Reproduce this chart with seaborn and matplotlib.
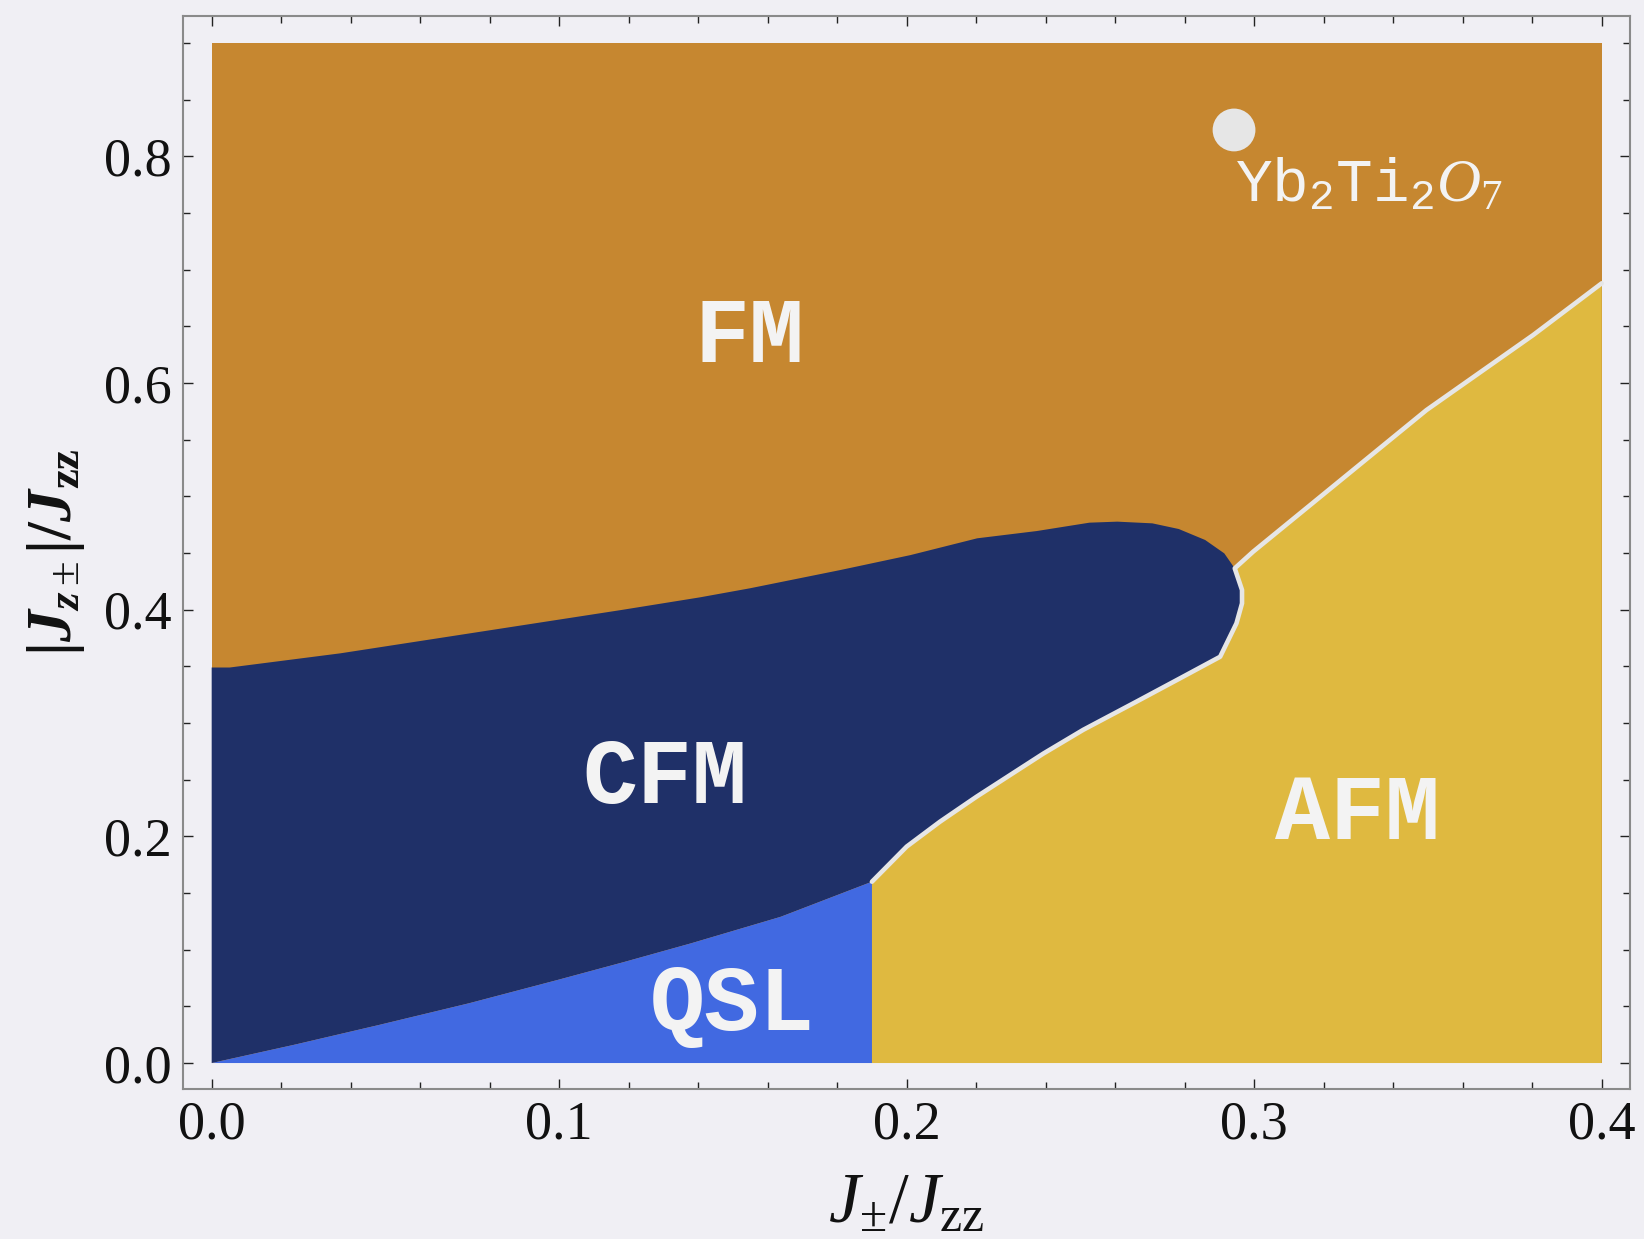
import numpy as np
import pandas as pd
import matplotlib
matplotlib.use("Agg")
import matplotlib.pyplot as plt
import seaborn as sns

# ---- phase boundaries (x = J_pm/J_zz, y = |J_z±|/J_zz) ----
# FM / CFM boundary, from the left edge to the triple point
fm_cfm_x = [0.0, 0.0052, 0.037, 0.0774, 0.1178, 0.1405, 0.1549, 0.1809, 0.2011,
            0.2203, 0.2374, 0.2526, 0.2606, 0.2707, 0.2783, 0.2859, 0.2914, 0.2944]
fm_cfm_y = [0.349, 0.349, 0.3615, 0.3806, 0.3997, 0.4109, 0.4189, 0.435, 0.4482,
            0.463, 0.4694, 0.4768, 0.4777, 0.4762, 0.4712, 0.4615, 0.4497, 0.4365]

# CFM / AFM boundary, from the QSL corner to the triple point
cfm_afm_x = [0.19, 0.2, 0.2096, 0.2201, 0.2393, 0.2508, 0.2662, 0.2796, 0.2902,
             0.2949, 0.2965, 0.2965, 0.2944]
cfm_afm_y = [0.16, 0.191, 0.213, 0.235, 0.273, 0.294, 0.319, 0.341, 0.3585,
             0.388, 0.4056, 0.4174, 0.4365]

# QSL / CFM boundary
qsl_x = [0.0, 0.024, 0.048, 0.074, 0.0994, 0.1185, 0.1379, 0.1637, 0.1693, 0.19]
qsl_y = [0.0, 0.0163, 0.0335, 0.0527, 0.0732, 0.0890, 0.1056, 0.129, 0.1356, 0.16]

# AFM / FM boundary, from the triple point to the right edge
afm_fm_x = [0.2944, 0.2997, 0.3496, 0.3803, 0.4]
afm_fm_y = [0.4365, 0.4512, 0.5762, 0.6424, 0.688]

# computed window and the Yb2Ti2O7 point
j_pm_range = (0.0, 0.4)
j_zpm_range = (0.0, 0.9)
material_x = [0.2942]
material_y = [0.8233]

x_ticks = [0.0, 0.1, 0.2, 0.3, 0.4]
y_ticks = [0.0, 0.2, 0.4, 0.6, 0.8]

# ---- style ----
sns.set_theme(style="ticks")
bg = "#F0EFF4"
plt.rcParams.update({
    "font.family": ["Liberation Serif", "DejaVu Serif"],
    "mathtext.fontset": "custom",
    "mathtext.rm": "Liberation Serif",
    "mathtext.it": "Liberation Serif:italic",
    "mathtext.bf": "Liberation Serif:bold",
    "mathtext.bfit": "Liberation Serif:italic:bold",
    "mathtext.tt": "Liberation Mono",
    "figure.facecolor": bg,
    "axes.facecolor": bg,
})

c_fm = "#C68730"
c_cfm = "#1F3068"
c_qsl = "#4169E1"
c_afm = "#DFB940"
c_line = "#E6E6E6"
c_text = "#F3F3F3"

fig = plt.figure(figsize=(16.44, 12.39), dpi=100)
ax = fig.add_axes([0.1113, 0.1208, 0.8800, 0.8665])

x0, x1 = j_pm_range
y0, y1 = j_zpm_range

# FM fills the whole window; the other phases are painted over it
ax.fill([x0, x1, x1, x0], [y0, y0, y1, y1], color=c_fm, lw=0, zorder=1)

afm_px = [qsl_x[-1], x1] + afm_fm_x[::-1] + cfm_afm_x[::-1][1:]
afm_py = [y0, y0] + afm_fm_y[::-1] + cfm_afm_y[::-1][1:]
ax.fill(afm_px, afm_py, color=c_afm, lw=0, zorder=2)

cfm_px = qsl_x + cfm_afm_x[1:] + fm_cfm_x[::-1][1:]
cfm_py = qsl_y + cfm_afm_y[1:] + fm_cfm_y[::-1][1:]
ax.fill(cfm_px, cfm_py, color=c_cfm, lw=0, zorder=2)

qsl_px = qsl_x + [qsl_x[-1]]
qsl_py = qsl_y + [y0]
ax.fill(qsl_px, qsl_py, color=c_qsl, lw=0, zorder=3)

# light boundary line around the AFM phase
afm_edge = pd.DataFrame({
    "x": cfm_afm_x + afm_fm_x[1:],
    "y": cfm_afm_y + afm_fm_y[1:],
})
sns.lineplot(data=afm_edge, x="x", y="y", sort=False, estimator=None,
             color=c_line, lw=3.3, ax=ax, zorder=4)

# Yb2Ti2O7 marker
sns.scatterplot(x=material_x, y=material_y, s=950, color=c_line,
                edgecolor="none", ax=ax, zorder=5)
ax.text(0.2945, 0.76, r"$\mathtt{Yb}_{\mathtt{2}}\mathtt{Ti}_{\mathtt{2}}O_{7}$",
        color=c_text, fontsize=44, ha="left", va="baseline", zorder=6)

# phase names
phase_font = dict(family=["Liberation Mono", "DejaVu Sans Mono"], fontsize=66,
                  fontweight="bold", color=c_text, ha="center", va="baseline",
                  zorder=6)
ax.text(0.1548, 0.619, "FM", **phase_font)
ax.text(0.1304, 0.2292, "CFM", **phase_font)
ax.text(0.3298, 0.1978, "AFM", **phase_font)
ax.text(0.1499, 0.0291, "QSL", **phase_font)

# axes, ticks, frame
ax.set_xlim(-0.00826, 0.40806)
ax.set_ylim(-0.0232, 0.9241)
ax.set_xticks(x_ticks)
ax.set_yticks(y_ticks)
ax.set_xticks(np.arange(0.0, 0.4001, 0.02), minor=True)
ax.set_yticks(np.arange(0.0, 0.9001, 0.05), minor=True)
ax.xaxis.set_major_formatter(matplotlib.ticker.FormatStrFormatter("%.1f"))
ax.yaxis.set_major_formatter(matplotlib.ticker.FormatStrFormatter("%.1f"))
ax.tick_params(which="both", direction="in", top=True, right=True,
               color="#222222", width=1.0)
ax.tick_params(which="major", length=7.5, labelsize=39, pad=8, labelcolor="#111111")
ax.tick_params(which="minor", length=5)
for sp in ax.spines.values():
    sp.set_color("#8A8A8A")
    sp.set_linewidth(1.5)
    sp.set_visible(True)

ax.set_xlabel(r"$J_{\pm}/J_{\mathrm{zz}}$", fontsize=51, color="#111111")
ax.set_ylabel(r"$\mathbf{|}\mathbfit{J}_{\mathbfit{z}\pm}\mathbf{|/}\mathbfit{J}_{\mathbf{zz}}$",
              fontsize=46, color="#111111")
ax.xaxis.set_label_coords(0.5, -0.077)
ax.yaxis.set_label_coords(-0.066, 0.5)

fig.savefig("out.png", dpi=100, facecolor=bg)
